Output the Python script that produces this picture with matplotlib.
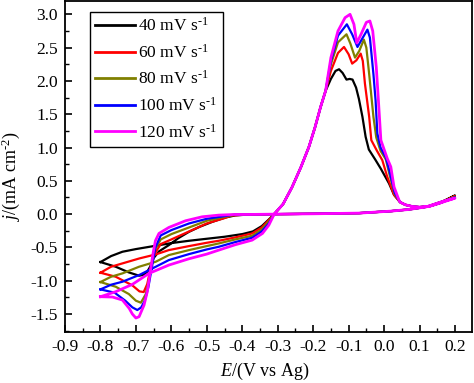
import numpy as np
import matplotlib
matplotlib.use("Agg")
import matplotlib.pyplot as plt
from matplotlib.ticker import MultipleLocator

plt.rcParams['font.family'] = 'Liberation Serif'
plt.rcParams['mathtext.fontset'] = 'custom'
plt.rcParams['mathtext.rm'] = 'Liberation Serif'
plt.rcParams['mathtext.it'] = 'Liberation Serif:italic'

HY = '\u2010'  # short hyphen for the superscripts

# scan rates and colours
labels = ['40 mV s$^{%s1}$' % HY, '60 mV s$^{%s1}$' % HY, '80 mV s$^{%s1}$' % HY,
          '100 mV s$^{%s1}$' % HY, '120 mV s$^{%s1}$' % HY]
colors = ['#000000', '#ff0000', '#808000', '#0000ff', '#ff00ff']

# shared parts of every loop
rise_E = [-0.285, -0.26, -0.235, -0.212, -0.195, -0.179, -0.165]
rise_j = [0.15, 0.40, 0.70, 1.01, 1.30, 1.61, 1.85]
tail_E = [0.045, 0.06, 0.08, 0.10, 0.13, 0.16, 0.20]
tail_j = [0.18, 0.14, 0.115, 0.105, 0.12, 0.17]
vertex_j = [0.28, 0.27, 0.26, 0.25, 0.24]
ret_E = [0.165, 0.12, 0.07, 0.02, -0.07, -0.2, -0.3, -0.38]
ret_j = [0.19, 0.11, 0.07, 0.045, 0.015, 0.005, 0.0, -0.005]

# positive sweep from -0.8 V up to the crossing at -0.31 V
pos_E = [
    [-0.80, -0.77, -0.738, -0.70, -0.65, -0.60, -0.55, -0.50, -0.45, -0.40, -0.37, -0.345, -0.325, -0.31],
    [-0.80, -0.77, -0.738, -0.69, -0.644, -0.607, -0.55, -0.50, -0.466, -0.42, -0.372, -0.345, -0.325, -0.31],
    [-0.80, -0.77, -0.738, -0.691, -0.644, -0.607, -0.55, -0.50, -0.466, -0.42, -0.372, -0.345, -0.325, -0.31],
    [-0.80, -0.77, -0.738, -0.691, -0.644, -0.607, -0.55, -0.50, -0.466, -0.42, -0.372, -0.345, -0.325, -0.31],
    [-0.80, -0.757, -0.71, -0.663, -0.607, -0.55, -0.50, -0.466, -0.42, -0.372, -0.343, -0.325, -0.31],
]
pos_j = [
    [-0.72, -0.63, -0.565, -0.525, -0.48, -0.435, -0.40, -0.37, -0.34, -0.30, -0.26, -0.18, -0.08, 0.0],
    [-0.88, -0.79, -0.74, -0.665, -0.605, -0.54, -0.48, -0.43, -0.40, -0.35, -0.29, -0.20, -0.09, 0.0],
    [-1.02, -0.94, -0.89, -0.79, -0.715, -0.615, -0.54, -0.48, -0.44, -0.38, -0.325, -0.23, -0.11, 0.0],
    [-1.13, -1.06, -1.015, -0.915, -0.79, -0.69, -0.60, -0.53, -0.49, -0.42, -0.355, -0.26, -0.14, 0.0],
    [-1.24, -1.165, -1.055, -0.89, -0.765, -0.67, -0.60, -0.54, -0.46, -0.39, -0.29, -0.165, 0.0],
]

# anodic double peak
peak_E = [
    [-0.15, -0.137, -0.127, -0.117, -0.106, -0.097, -0.089, -0.079, -0.071, -0.061, -0.052, -0.043, -0.025, -0.009, 0.014, 0.028],
    [-0.15, -0.13, -0.113, -0.10, -0.09, -0.078, -0.066, -0.06, -0.054, -0.042, -0.036, -0.02, -0.005, 0.009, 0.028],
    [-0.15, -0.13, -0.106, -0.095, -0.082, -0.07, -0.057, -0.05, -0.042, -0.03, -0.022, -0.01, 0.005, 0.015, 0.03],
    [-0.15, -0.13, -0.105, -0.09, -0.075, -0.06, -0.047, -0.04, -0.03, -0.024, -0.019, -0.01, 0.005, 0.015, 0.03],
    [-0.15, -0.13, -0.11, -0.096, -0.085, -0.077, -0.065, -0.05, -0.04, -0.032, -0.022, -0.016, -0.009, 0.009, 0.019, 0.028, 0.042],
]
peak_j = [
    [2.03, 2.15, 2.175, 2.12, 2.02, 2.03, 2.02, 1.90, 1.73, 1.46, 1.16, 0.97, 0.82, 0.68, 0.46, 0.29],
    [2.15, 2.42, 2.51, 2.40, 2.26, 2.31, 2.41, 2.30, 1.96, 1.46, 1.11, 0.95, 0.81, 0.56, 0.29],
    [2.25, 2.58, 2.70, 2.56, 2.35, 2.45, 2.62, 2.50, 2.10, 1.46, 1.15, 0.95, 0.82, 0.60, 0.30],
    [2.30, 2.68, 2.85, 2.70, 2.51, 2.65, 2.77, 2.65, 2.10, 1.71, 1.21, 1.00, 0.85, 0.65, 0.32],
    [2.35, 2.75, 2.95, 3.00, 2.85, 2.57, 2.70, 2.88, 2.90, 2.75, 2.21, 1.71, 1.11, 0.835, 0.71, 0.41, 0.21],
]

# negative sweep from -0.42 V down through the cathodic peak to -0.8 V
neg_E = [
    [-0.42, -0.447, -0.484, -0.52, -0.55, -0.58, -0.607, -0.635, -0.65, -0.66, -0.668, -0.677, -0.691, -0.72, -0.757, -0.80],
    [-0.43, -0.45, -0.50, -0.55, -0.60, -0.63, -0.648, -0.66, -0.668, -0.678, -0.69, -0.71, -0.757, -0.80],
    [-0.42, -0.45, -0.50, -0.55, -0.60, -0.63, -0.648, -0.66, -0.672, -0.686, -0.70, -0.72, -0.757, -0.80],
    [-0.42, -0.45, -0.50, -0.55, -0.60, -0.63, -0.645, -0.655, -0.665, -0.675, -0.685, -0.696, -0.71, -0.73, -0.76, -0.80],
    [-0.42, -0.466, -0.513, -0.56, -0.607, -0.635, -0.645, -0.652, -0.658, -0.668, -0.677, -0.691, -0.70, -0.71, -0.719, -0.738, -0.766, -0.80],
]
neg_j = [
    [-0.02, -0.05, -0.115, -0.19, -0.265, -0.36, -0.465, -0.56, -0.66, -0.79, -0.865, -0.91, -0.925, -0.875, -0.79, -0.72],
    [-0.02, -0.06, -0.14, -0.26, -0.38, -0.45, -0.60, -0.85, -1.05, -1.17, -1.16, -1.07, -0.94, -0.88],
    [-0.01, -0.04, -0.10, -0.20, -0.30, -0.38, -0.55, -0.90, -1.20, -1.33, -1.30, -1.20, -1.09, -1.02],
    [-0.005, -0.03, -0.07, -0.14, -0.24, -0.32, -0.50, -0.80, -1.10, -1.30, -1.40, -1.44, -1.40, -1.30, -1.18, -1.13],
    [-0.005, -0.015, -0.04, -0.10, -0.20, -0.29, -0.40, -0.60, -0.815, -1.165, -1.365, -1.54, -1.56, -1.50, -1.415, -1.29, -1.245, -1.24],
]

fig = plt.figure(figsize=(4.74, 3.83), dpi=100)
ax = fig.add_axes([65 / 474, 51 / 383, 407 / 474, 331 / 383])

for i in range(5):
    E = pos_E[i] + rise_E + peak_E[i] + tail_E + ret_E + neg_E[i]
    j = pos_j[i] + rise_j + peak_j[i] + tail_j + [vertex_j[i]] + ret_j + neg_j[i]
    lw = 2.0 if i == 4 else 1.6
    ax.plot(E, j, color=colors[i], lw=lw, label=labels[i], solid_joinstyle='round')

xt = np.round(np.arange(-0.9, 0.21, 0.1), 1)
yt = np.round(np.arange(-1.5, 3.01, 0.5), 1)
ax.set_xticks(xt)
ax.set_xticklabels(['%.1f' % v for v in np.abs(xt) * np.sign(xt + 1e-9)])
ax.set_yticks(yt)
ax.set_yticklabels(['%.1f' % v for v in np.abs(yt) * np.sign(yt + 1e-9)])
ax.xaxis.set_minor_locator(MultipleLocator(0.05))
ax.yaxis.set_minor_locator(MultipleLocator(0.25))
ax.set_xlim(-0.9, 0.248)
ax.set_ylim(-1.77, 3.2)
ax.tick_params(which='both', direction='in', labelsize=12.5)
ax.tick_params(which='major', length=5, width=1.2, pad=5)
ax.tick_params(which='minor', length=3, width=1.0)
for s in ax.spines.values():
    s.set_linewidth(1.3)

ax.set_xlabel('$\\mathit{E}$/(V vs Ag)', fontsize=13)
ax.set_ylabel('$\\mathit{j}$/(mA cm$^{%s2}$)' % HY, fontsize=13)
ax.xaxis.set_label_coords(0.49, -0.088)
ax.yaxis.set_label_coords(-0.105, 0.47)

leg = ax.legend(loc='upper left', bbox_to_anchor=(0.061, 0.967), borderaxespad=0,
                fontsize=12.5, fancybox=False, framealpha=1, edgecolor='black',
                handlelength=2.3, handletextpad=0.2, labelspacing=0.5, borderpad=0.3)
leg.get_frame().set_linewidth(1.0)
for ln in leg.get_lines():
    ln.set_linewidth(2.0)

fig.savefig('out.png', dpi=100)
